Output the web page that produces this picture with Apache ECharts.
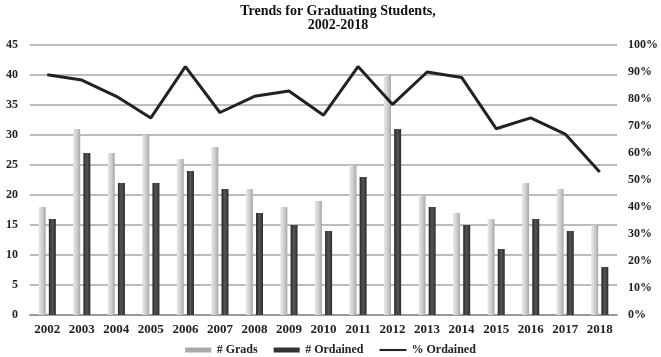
<!DOCTYPE html>
<html><head><meta charset="utf-8">
<script src="https://cdn.jsdelivr.net/npm/echarts@6/dist/echarts.min.js"></script>
<style>html,body{margin:0;padding:0;background:#fff}#c{width:661px;height:357px}</style>
</head><body><div id="c"></div>
<script>
const years = ['2002','2003','2004','2005','2006','2007','2008','2009','2010','2011','2012','2013','2014','2015','2016','2017','2018'];
const grads = [18,31,27,30,26,28,21,18,19,25,40,20,17,16,22,21,15];
const ordained = [16,27,22,22,24,21,17,15,14,23,31,18,15,11,16,14,8];
const pctOrdained = [89,87,81,73,92,75,81,83,74,92,78,90,88,69,73,67,53];

const font = 'Liberation Serif';
const chart = echarts.init(document.getElementById('c'), null, {renderer:'canvas'});
chart.setOption({
  animation:false,
  backgroundColor:'#fff',
  title:{text:'Trends for Graduating Students,\n2002-2018', left:333, top:-1, textAlign:'center',
    textStyle:{fontFamily:font, fontWeight:'bold', fontSize:14, color:'#111', lineHeight:14}},
  grid:{left:30, right:41, top:45, bottom:42},
  legend:{bottom:-4, left:'center', itemGap:16, textStyle:{fontFamily:font, fontWeight:'bold', fontSize:12, color:'#222'},
    data:[
      {name:'# Grads', icon:'path://M0,0H26V5H0Z', itemStyle:{color:'#aaa'}},
      {name:'# Ordained', icon:'path://M0,0H26V5H0Z', itemStyle:{color:'#333'}},
      {name:'% Ordained', icon:'path://M0,0H26V2H0Z', itemStyle:{color:'#222'}}],
    itemWidth:27, itemHeight:5},
  xAxis:{type:'category', data:years, axisTick:{show:false},
    axisLine:{lineStyle:{color:'#999', width:2}},
    axisLabel:{fontFamily:font, fontWeight:'bold', fontSize:13, color:'#222', margin:8}},
  yAxis:[
    {type:'value', min:0, max:45, interval:5, splitLine:{lineStyle:{color:'#bbb', width:2}},
      axisLabel:{fontFamily:font, fontWeight:'bold', fontSize:12, color:'#222', margin:12}},
    {type:'value', min:0, max:100, interval:10, splitLine:{show:false},
      axisLabel:{fontFamily:font, fontWeight:'bold', fontSize:12, color:'#222', margin:11, formatter:'{value}%'}}
  ],
  series:[
    {name:'# Grads', type:'bar', data:grads, barWidth:7, barGap:'45%',
      itemStyle:{color:new echarts.graphic.LinearGradient(0,0,1,0,[{offset:0,color:'#e8e8e8'},{offset:0.5,color:'#cfcfcf'},{offset:1,color:'#a8a8a8'}])}},
    {name:'# Ordained', type:'bar', data:ordained, barWidth:7,
      itemStyle:{color:new echarts.graphic.LinearGradient(0,0,1,0,[{offset:0,color:'#2a2a2a'},{offset:0.5,color:'#555'},{offset:1,color:'#2a2a2a'}])}},
    {name:'% Ordained', type:'line', yAxisIndex:1, data:pctOrdained, symbol:'none',
      lineStyle:{color:'#222', width:3}, itemStyle:{color:'#222'}}
  ]
});
</script></body></html>
